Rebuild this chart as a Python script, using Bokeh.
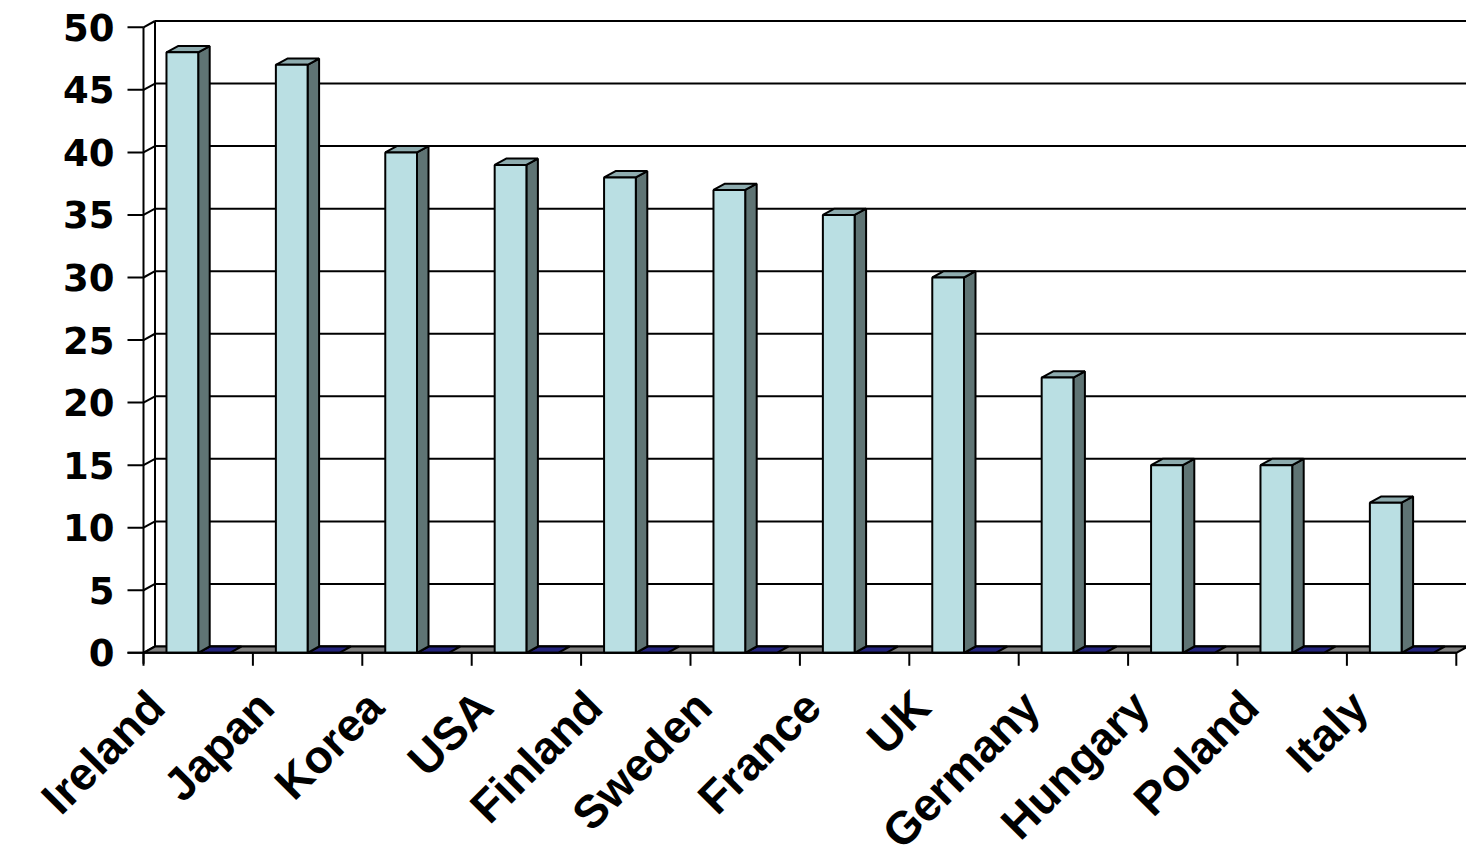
import math
from bokeh.plotting import figure
from bokeh.models import Range1d, ColumnDataSource
from bokeh.core.properties import value
from bokeh.embed import file_html
from bokeh.resources import INLINE

# Chart data
countries = ["Ireland", "Japan", "Korea", "USA", "Finland", "Sweden",
             "France", "UK", "Germany", "Hungary", "Poland", "Italy"]
series_main = [48, 47, 40, 39, 38, 37, 35, 30, 22, 15, 15, 12]
series_zero = [0, 0, 0, 0, 0, 0, 0, 0, 0, 0, 0, 0]
y_ticks = [0, 5, 10, 15, 20, 25, 30, 35, 40, 45, 50]

W, H = 1466, 860
PX_X = 109.4      # pixels per category
PX_Y = 12.51      # pixels per value unit
ORIGIN_X = 143.0  # pixel position of the front axis
ORIGIN_Y = 652.3  # pixel position of the zero line (front)

# depth offset of the pseudo-3D box, in data units
DX = 11.5 / PX_X
DY = 6.3 / PX_Y

Y_MAX = 50
N = len(countries)

FRONT = "#BADFE3"
SIDE = "#5F7474"
TOP = "#8EACAF"
NAVY = "#23237C"
FLOOR = "#808080"
LW = 2

p = figure(width=W, height=H, output_backend="svg", toolbar_location=None,
           x_axis_type=None, y_axis_type=None,
           x_range=Range1d(-ORIGIN_X / PX_X, (W - ORIGIN_X) / PX_X),
           y_range=Range1d(-(H - ORIGIN_Y) / PX_Y, ORIGIN_Y / PX_Y),
           min_border=0, min_border_left=0, min_border_right=0,
           min_border_top=0, min_border_bottom=0)
p.outline_line_color = None
p.grid.visible = False
p.background_fill_color = "white"
p.border_fill_color = "white"

# back wall gridlines
p.segment(x0=[DX] * len(y_ticks), y0=[t + DY for t in y_ticks],
          x1=[N + DX + 0.2] * len(y_ticks), y1=[t + DY for t in y_ticks],
          line_color="black", line_width=LW)
# left wall: diagonals and verticals
p.segment(x0=[0] * len(y_ticks), y0=y_ticks,
          x1=[DX] * len(y_ticks), y1=[t + DY for t in y_ticks],
          line_color="black", line_width=LW)
p.segment(x0=[DX], y0=[DY], x1=[DX], y1=[Y_MAX + DY], line_color="black", line_width=LW)

# floor
p.patch(x=[0, N, N + DX, DX], y=[0, 0, DY, DY], fill_color=FLOOR,
        line_color="black", line_width=LW)

# zero-height series lying on the floor
zx, zy = [], []
for i, v in enumerate(series_zero):
    l, r = i + 0.5, i + 0.79
    zx.append([l, r, r + DX, l + DX])
    zy.append([v, v, v + DY, v + DY])
p.patches(xs=zx, ys=zy, fill_color=NAVY, line_color="black", line_width=LW)

# main series bars: front, side and top faces
lefts = [i + 0.21 for i in range(N)]
rights = [i + 0.50 for i in range(N)]
src = ColumnDataSource(dict(left=lefts, right=rights, top=series_main,
                            bottom=[0] * N))
side_x, side_y, top_x, top_y = [], [], [], []
for l, r, v in zip(lefts, rights, series_main):
    side_x.append([r, r + DX, r + DX, r])
    side_y.append([0, DY, v + DY, v])
    top_x.append([l, l + DX, r + DX, r])
    top_y.append([v, v + DY, v + DY, v])
p.patches(xs=side_x, ys=side_y, fill_color=SIDE, line_color="black", line_width=LW)
p.patches(xs=top_x, ys=top_y, fill_color=TOP, line_color="black", line_width=LW)
p.quad(left="left", right="right", top="top", bottom="bottom", source=src,
       fill_color=FRONT, line_color="black", line_width=LW)

# front value axis with ticks
tick_len_x = 16 / PX_X
p.segment(x0=[0], y0=[-11 / PX_Y], x1=[0], y1=[Y_MAX], line_color="black", line_width=LW)
p.segment(x0=[-tick_len_x] * len(y_ticks), y0=y_ticks,
          x1=[0] * len(y_ticks), y1=y_ticks, line_color="black", line_width=LW)
p.text(x=[-29 / PX_X] * len(y_ticks), y=y_ticks, text=[str(t) for t in y_ticks],
       text_font=value("DejaVu Sans"), text_font_style="bold",
       text_font_size="37px", text_align="right", text_baseline="middle",
       text_color="black")

# category axis: baseline and ticks
p.segment(x0=[-tick_len_x], y0=[0], x1=[N], y1=[0], line_color="black", line_width=LW)
p.segment(x0=list(range(N + 1)), y0=[0] * (N + 1),
          x1=list(range(N + 1)), y1=[-13 / PX_Y] * (N + 1),
          line_color="black", line_width=LW)
p.text(x=[i + 0.5 - 42 / PX_X for i in range(N)], y=[-46 / PX_Y] * N, text=countries,
       angle=math.pi / 4, text_font=value("Liberation Sans"), text_font_style="bold",
       text_font_size="46px", text_align="right", text_baseline="middle",
       text_color="black")

open("out.html", "w").write(file_html(p, INLINE))
